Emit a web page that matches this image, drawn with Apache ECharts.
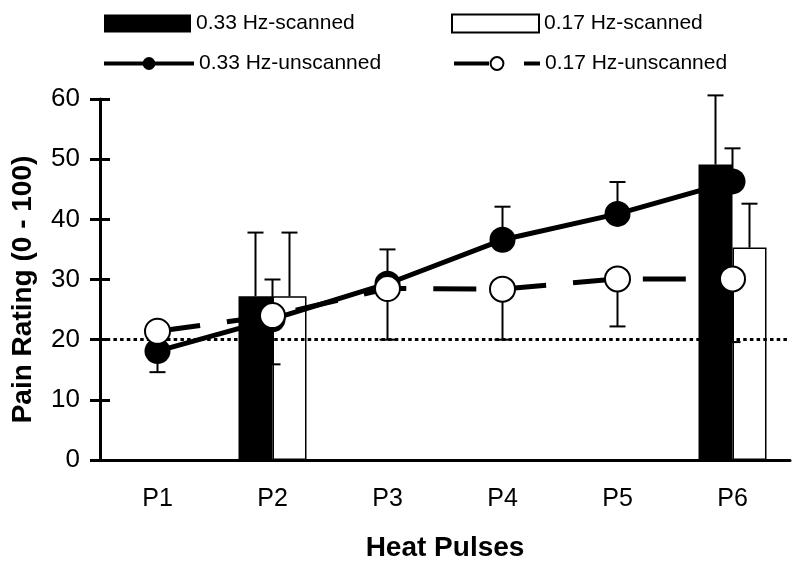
<!DOCTYPE html>
<html>
<head>
<meta charset="utf-8">
<script src="https://cdn.jsdelivr.net/npm/echarts@6/dist/echarts.min.js"></script>
<style>html,body{margin:0;padding:0;background:#fff}#c{width:800px;height:567px}</style>
</head>
<body>
<div id="c"></div>
<script>
// ---- data ----
const categories = ['P1', 'P2', 'P3', 'P4', 'P5', 'P6'];
const yTicks = [0, 10, 20, 30, 40, 50, 60];
const scanned033 = [null, 27.2, null, null, null, 49.1];
const scanned017 = [null, 27.2, null, null, null, 35.3];
const scanned033ErrEnd = [null, 37.8, null, null, null, 60.6];
const scanned017ErrEnd = [null, 37.8, null, null, null, 42.6];
const unscanned033 = [18.1, 23.4, 29.3, 36.6, 40.9, 46.3];
const unscanned017 = [21.4, 24.0, 28.5, 28.4, 30.1, 30.1];
const unscanned033ErrEnd = [14.6, 30.0, 35.0, 42.1, 46.2, 51.8];
const unscanned017ErrEnd = [null, 15.9, 20.0, 20.0, 22.2, 19.6];
const referenceLevel = 20;

const FONT = "'Liberation Sans', Arial, sans-serif";
const BAR_W = 34;

function errData(base, ends) {
  const out = [];
  for (let i = 0; i < base.length; i++) {
    if (base[i] != null && ends[i] != null) out.push([i, base[i], ends[i]]);
  }
  return out;
}
function errRenderer(offsetPx) {
  return function (params, api) {
    const i = api.value(0), b = api.value(1), e = api.value(2);
    const p0 = api.coord([i, b]);
    const p1 = api.coord([i, e]);
    const x = p0[0] + offsetPx;
    const hw = 8;
    return {
      type: 'group',
      children: [
        { type: 'line', shape: { x1: x, y1: p0[1], x2: x, y2: p1[1] }, style: { stroke: '#000', lineWidth: 2 } },
        { type: 'line', shape: { x1: x - hw, y1: p1[1], x2: x + hw, y2: p1[1] }, style: { stroke: '#000', lineWidth: 2 } }
      ]
    };
  };
}

const chart = echarts.init(document.getElementById('c'), null, { renderer: 'canvas' });
const legendText = { fontFamily: FONT, fontSize: 21, color: '#000' };
const option = {
  animation: false,
  backgroundColor: '#fff',
  legend: [
    { data: ['0.33 Hz-scanned'], left: 104, top: 13, padding: 0, itemWidth: 87, itemHeight: 18, icon: 'rect', selectedMode: false, textStyle: legendText },
    { data: ['0.17 Hz-scanned'], left: 451, top: 13, padding: 0, itemWidth: 87, itemHeight: 18, icon: 'rect', selectedMode: false, textStyle: legendText },
    { data: ['0.33 Hz-unscanned'], left: 102, top: 53, padding: 0, itemWidth: 90, itemHeight: 16, selectedMode: false, textStyle: legendText,
      lineStyle: { width: 4 } },
    { data: ['0.17 Hz-unscanned'], left: 452, top: 53, padding: 0, itemWidth: 86, itemHeight: 16, selectedMode: false, textStyle: legendText,
      lineStyle: { width: 4, type: [35, 35] } }
  ],
  grid: { left: 100, right: 10, top: 99, bottom: 106.5, containLabel: false },
  xAxis: {
    type: 'category',
    data: categories,
    boundaryGap: true,
    axisLine: { lineStyle: { color: '#000', width: 3 } },
    axisTick: { show: false },
    axisLabel: { fontFamily: FONT, fontSize: 25, color: '#000', margin: 27 },
    splitLine: { show: false },
    name: 'Heat Pulses',
    nameLocation: 'middle',
    nameGap: 74,
    nameTextStyle: { fontFamily: FONT, fontSize: 28, fontWeight: 'bold', color: '#000' }
  },
  yAxis: [
    {
      type: 'value', min: yTicks[0], max: yTicks[yTicks.length - 1], interval: 10,
      position: 'left',
      axisLine: { show: true, lineStyle: { color: '#000', width: 3 } },
      axisTick: { show: true, inside: false, length: 10, lineStyle: { color: '#000', width: 3 } },
      axisLabel: { fontFamily: FONT, fontSize: 26, color: '#000', margin: 20 },
      splitLine: { show: false },
      name: 'Pain Rating (0 - 100)',
      nameLocation: 'middle',
      nameGap: 63,
      nameRotate: 90,
      nameTextStyle: { fontFamily: FONT, fontSize: 28, fontWeight: 'bold', color: '#000', padding: [0, 20, 0, 0] }
    },
    {
      type: 'value', min: yTicks[0], max: yTicks[yTicks.length - 1], interval: 10,
      position: 'left', offset: 0,
      axisLine: { show: false },
      axisTick: { show: true, inside: true, length: 10, lineStyle: { color: '#000', width: 3 } },
      axisLabel: { show: false },
      splitLine: { show: false }
    }
  ],
  series: [
    {
      name: '0.33 Hz-scanned', type: 'bar', data: scanned033, barWidth: BAR_W, barGap: '0%', z: 2,
      itemStyle: { color: '#000' }
    },
    {
      name: '0.17 Hz-scanned', type: 'bar', data: scanned017, barWidth: BAR_W, barGap: '0%', z: 2,
      itemStyle: { color: '#fff', borderColor: '#000', borderWidth: 1.5 }
    },
    {
      name: 'ref', type: 'line', data: categories.map(() => null), z: 3, showSymbol: false, silent: true,
      markLine: {
        silent: true, symbol: 'none', label: { show: false },
        lineStyle: { color: '#000', width: 3, type: [3.5, 3.2] },
        data: [{ yAxis: referenceLevel }]
      }
    },
    {
      name: 'err033s', type: 'custom', z: 3, silent: true,
      renderItem: errRenderer(-BAR_W / 2), data: errData(scanned033, scanned033ErrEnd),
      encode: { x: 0, y: [1, 2] }
    },
    {
      name: 'err017s', type: 'custom', z: 3, silent: true,
      renderItem: errRenderer(BAR_W / 2), data: errData(scanned017, scanned017ErrEnd),
      encode: { x: 0, y: [1, 2] }
    },
    {
      name: 'err033u', type: 'custom', z: 3, silent: true,
      renderItem: errRenderer(0), data: errData(unscanned033, unscanned033ErrEnd),
      encode: { x: 0, y: [1, 2] }
    },
    {
      name: 'err017u', type: 'custom', z: 3, silent: true,
      renderItem: errRenderer(0), data: errData(unscanned017, unscanned017ErrEnd),
      encode: { x: 0, y: [1, 2] }
    },
    {
      name: '0.33 Hz-unscanned', type: 'line', data: unscanned033, z: 4,
      symbol: 'circle', symbolSize: 26, showSymbol: true,
      color: '#000',
      lineStyle: { color: '#000', width: 5 },
      itemStyle: { color: '#000', borderColor: '#000', borderWidth: 0 }
    },
    {
      name: '0.17 Hz-unscanned', type: 'line', data: unscanned017, z: 5,
      symbol: 'circle', symbolSize: 25, showSymbol: true,
      color: '#000',
      lineStyle: { color: '#000', width: 5, type: [43, 27] },
      itemStyle: { color: '#fff', borderColor: '#000', borderWidth: 2 }
    }
  ]
};
chart.setOption(option);
</script>
</body>
</html>
